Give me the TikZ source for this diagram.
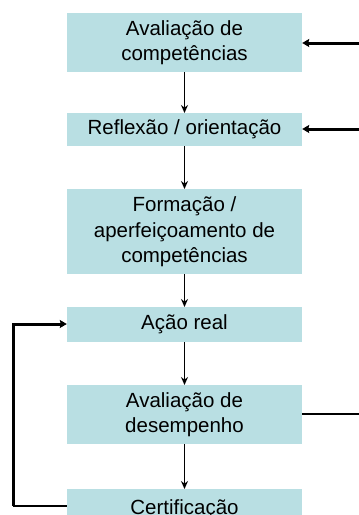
\documentclass[tikz,border=0pt]{standalone}
\usepackage{fontspec}
\setmainfont{Liberation Sans}
\usetikzlibrary{arrows.meta}
\definecolor{boxblue}{HTML}{B9DFE3}
\begin{document}
\begin{tikzpicture}[x=1pt,y=-1pt,
  box/.style={fill=boxblue,draw=none,minimum width=235pt,inner sep=0pt,align=center,font=\fontsize{20.5}{25.5}\selectfont,anchor=north},
  thinarr/.style={draw=black,line width=1.4pt,-{Stealth[length=8pt,width=7pt]}},
  thickarr/.style={draw=black,line width=3pt,-{Stealth[length=7pt,width=8pt,inset=1pt]}}]
\useasboundingbox (0,0) rectangle (359,515);
\node[box,minimum height=59pt] (b1) at (184.5,13) {Avaliação de\\competências};
\node[box,minimum height=33pt] (b2) at (184.5,113) {Reflexão / orientação};
\node[box,minimum height=85pt] (b3) at (184.5,189) {Formação /\\aperfeiçoamento de\\competências};
\node[box,minimum height=35pt] (b4) at (184.5,307) {Ação real};
\node[box,minimum height=59pt] (b5) at (184.5,385) {Avaliação de\\desempenho};
\node[box,minimum height=40pt] (b6) at (184.5,489) {Certificação};
\coordinate (r1) at (359,43);
\coordinate (r2) at (359,129);
\coordinate (r5) at (359,414);
\coordinate (l6) at (13,506);
\coordinate (l4) at (13,324);
\draw[thinarr] (b1.south) -- (b2.north);
\draw[thinarr] (b2.south) -- (b3.north);
\draw[thinarr] (b3.south) -- (b4.north);
\draw[thinarr] (b4.south) -- (b5.north);
\draw[thinarr] (b5.south) -- (b6.north);
\draw[thickarr] (r1) -- (r1 -| b1.east);
\draw[thickarr] (r2) -- (r2 -| b2.east);
\draw[line width=1.5pt] (b5.east |- r5) -- (r5);
\draw[line width=1.5pt] (b6.west |- l6) -- (l6);
\draw[thickarr] (l6) -- (l4) -- (l4 -| b4.west);
\end{tikzpicture}
\end{document}
